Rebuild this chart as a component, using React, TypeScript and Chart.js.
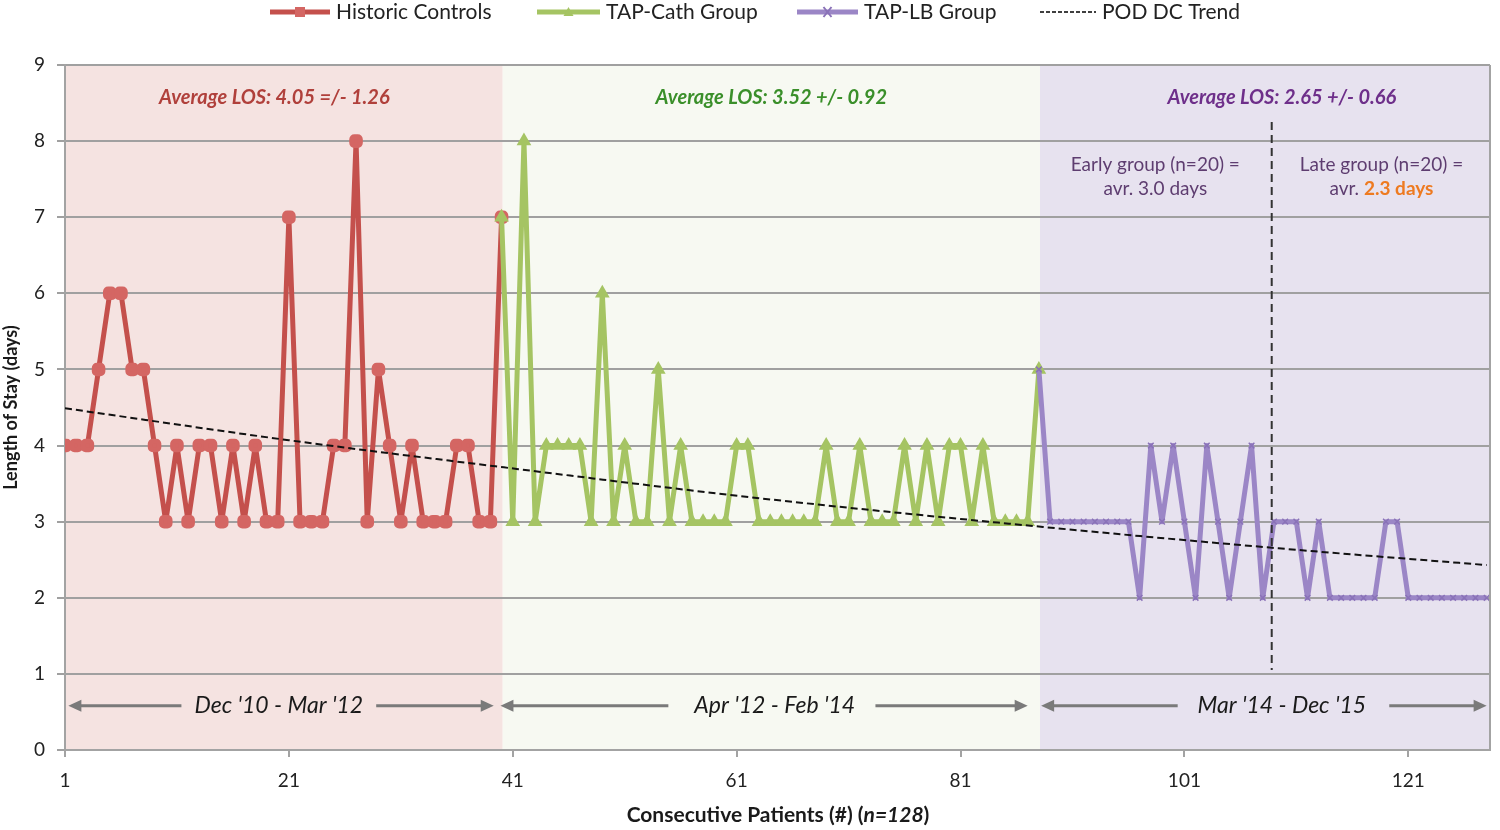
import React, { useEffect, useRef } from "react";
import { Chart, registerables } from "chart.js";

Chart.register(...registerables);

// ---- Data ----
const historicStart = 1;
const historicValues = [
  4, 4, 4, 5, 6, 6, 5, 5, 4, 3,
  4, 3, 4, 4, 3, 4, 3, 4, 3, 3,
  7, 3, 3, 3, 4, 4, 8, 3, 5, 4,
  3, 4, 3, 3, 3, 4, 4, 3, 3, 7,
];
const tapCathStart = 40;
const tapCathValues = [
  7,
  3, 8, 3, 4, 4, 4, 4, 3, 6, 3,
  4, 3, 3, 5, 3, 4, 3, 3, 3, 3,
  4, 4, 3, 3, 3, 3, 3, 3, 4, 3,
  3, 4, 3, 3, 3, 4, 3, 4, 3, 4,
  4, 3, 4, 3, 3, 3, 3, 5,
];
const tapLbStart = 88;
const tapLbValues = [
  5,
  3, 3, 3, 3, 3, 3, 3, 3, 2, 4,
  3, 4, 3, 2, 4, 3, 2, 3, 4, 2,
  3, 3, 3, 2, 3, 2, 2, 2, 2, 2,
  3, 3, 2, 2, 2, 2, 2, 2, 2, 2,
];
// trend curve points
const trendX = [1, 21, 41.5, 62.3, 88.4, 109.4, 128];
const trendY = [4.49, 4.07, 3.69, 3.32, 2.93, 2.65, 2.43];

const xTicks = [1, 21, 41, 61, 81, 101, 121];
const yTicks = [0, 1, 2, 3, 4, 5, 6, 7, 8, 9];

const seriesNames = ["Historic Controls", "TAP-Cath Group", "TAP-LB Group", "POD DC Trend"];
const periodLabels = ["Dec '10 - Mar '12", "Apr '12 - Feb '14", "Mar '14 - Dec '15"];
const averageLabels = ["Average LOS: 4.05 =/- 1.26", "Average LOS: 3.52 +/- 0.92", "Average LOS: 2.65 +/- 0.66"];

// ---- Styling / layout config ----
const FONT = "Lato, 'Open Sans', sans-serif";
const X_MIN = 1;
const X_MAX = 128.3;
const regionBounds = [1, 40.1, 88.1, X_MAX];
const regionFills = ["#f5e3e1", "#f7f9f2", "#e7e2ef"];
const averageStyle = [
  { x: 19.7, color: "#b0403b" },
  { x: 64.1, color: "#3a8f2a" },
  { x: 109.7, color: "#6e2f8a" },
];
const periodArrows = [
  { cx: 20.1, a: [1.3, 11.4], b: [28.8, 39.3] },
  { cx: 64.4, a: [39.9, 54.9], b: [73.4, 87.0] },
  { cx: 109.7, a: [88.2, 100.4], b: [119.3, 128.0] },
];
const splitX = 108.8;

const COLORS = {
  red: "#c4504c",
  redMarker: "#d46663",
  green: "#a5c463",
  purple: "#9b86c6",
};

function xy(start: number, values: number[]) {
  return values.map((v, i) => ({ x: start + i, y: v }));
}

function drawArrow(ctx: CanvasRenderingContext2D, x1: number, x2: number, y: number, headAt: "left" | "right") {
  ctx.save();
  ctx.strokeStyle = "#7a7a7a";
  ctx.fillStyle = "#7a7a7a";
  ctx.lineWidth = 3;
  const head = 13;
  ctx.beginPath();
  if (headAt === "left") {
    ctx.moveTo(x1 + head - 2, y);
    ctx.lineTo(x2, y);
  } else {
    ctx.moveTo(x1, y);
    ctx.lineTo(x2 - head + 2, y);
  }
  ctx.stroke();
  ctx.beginPath();
  if (headAt === "left") {
    ctx.moveTo(x1, y);
    ctx.lineTo(x1 + head, y - 6);
    ctx.lineTo(x1 + head, y + 6);
  } else {
    ctx.moveTo(x2, y);
    ctx.lineTo(x2 - head, y - 6);
    ctx.lineTo(x2 - head, y + 6);
  }
  ctx.closePath();
  ctx.fill();
  ctx.restore();
}

const decorPlugin = {
  id: "decor",
  beforeDraw(chart: any) {
    const { ctx, chartArea } = chart;
    const xs = chart.scales.x;
    ctx.save();
    for (let i = 0; i < regionFills.length; i++) {
      const l = xs.getPixelForValue(regionBounds[i]);
      const r = xs.getPixelForValue(regionBounds[i + 1]);
      ctx.fillStyle = regionFills[i];
      ctx.fillRect(l, chartArea.top, r - l, chartArea.bottom - chartArea.top);
    }
    ctx.restore();
  },
  afterDatasetsDraw(chart: any) {
    const { ctx, chartArea } = chart;
    const xs = chart.scales.x;
    const ys = chart.scales.y;
    ctx.save();

    // right border
    ctx.strokeStyle = "#a3a3a3";
    ctx.lineWidth = 2;
    ctx.beginPath();
    ctx.moveTo(chartArea.right, chartArea.top);
    ctx.lineTo(chartArea.right, chartArea.bottom);
    ctx.stroke();

    // split line
    ctx.strokeStyle = "#333";
    ctx.lineWidth = 2;
    ctx.setLineDash([8, 5]);
    ctx.beginPath();
    const sx = xs.getPixelForValue(splitX);
    ctx.moveTo(sx, ys.getPixelForValue(8.25));
    ctx.lineTo(sx, ys.getPixelForValue(1.05));
    ctx.stroke();
    ctx.setLineDash([]);

    // average labels
    ctx.textAlign = "center";
    ctx.textBaseline = "middle";
    ctx.font = `italic bold 20px ${FONT}`;
    averageLabels.forEach((t, i) => {
      ctx.fillStyle = averageStyle[i].color;
      ctx.fillText(t, xs.getPixelForValue(averageStyle[i].x), ys.getPixelForValue(8.57));
    });

    // early / late group
    const gf = 19;
    ctx.font = `${gf}px ${FONT}`;
    ctx.fillStyle = "#5e3d70";
    const ex = xs.getPixelForValue(98.4);
    ctx.fillText("Early group (n=20) =", ex, ys.getPixelForValue(7.69));
    ctx.fillText("avr. 3.0 days", ex, ys.getPixelForValue(7.37));
    const lx = xs.getPixelForValue(118.6);
    ctx.fillText("Late group (n=20) =", lx, ys.getPixelForValue(7.69));
    const p1 = "avr. ";
    const p2 = "2.3 days";
    ctx.font = `${gf}px ${FONT}`;
    const w1 = ctx.measureText(p1).width;
    ctx.font = `bold ${gf}px ${FONT}`;
    const w2 = ctx.measureText(p2).width;
    const startX = lx - (w1 + w2) / 2;
    const ly = ys.getPixelForValue(7.37);
    ctx.textAlign = "left";
    ctx.font = `${gf}px ${FONT}`;
    ctx.fillStyle = "#5e3d70";
    ctx.fillText(p1, startX, ly);
    ctx.font = `bold ${gf}px ${FONT}`;
    ctx.fillStyle = "#ee7a20";
    ctx.fillText(p2, startX + w1, ly);

    // period arrows
    const ay = ys.getPixelForValue(0.58);
    ctx.textAlign = "center";
    ctx.font = `italic 23px ${FONT}`;
    ctx.fillStyle = "#1a1a1a";
    periodArrows.forEach((p, i) => {
      drawArrow(ctx, xs.getPixelForValue(p.a[0]), xs.getPixelForValue(p.a[1]), ay, "left");
      drawArrow(ctx, xs.getPixelForValue(p.b[0]), xs.getPixelForValue(p.b[1]), ay, "right");
      ctx.fillText(periodLabels[i], xs.getPixelForValue(p.cx), ay);
    });

    ctx.restore();
  },
  afterDraw(chart: any) {
    const { ctx } = chart;
    ctx.save();
    // x title with italic part
    const t1 = "Consecutive Patients (#) (";
    const t2 = "n=128";
    const t3 = ")";
    const tf = 21;
    ctx.textBaseline = "middle";
    ctx.fillStyle = "#1a1a1a";
    ctx.font = `bold ${tf}px ${FONT}`;
    const w1 = ctx.measureText(t1).width;
    const w3 = ctx.measureText(t3).width;
    ctx.font = `italic bold ${tf}px ${FONT}`;
    const w2 = ctx.measureText(t2).width;
    const cx = 778;
    let x = cx - (w1 + w2 + w3) / 2;
    const y = 815;
    ctx.textAlign = "left";
    ctx.font = `bold ${tf}px ${FONT}`;
    ctx.fillText(t1, x, y);
    x += w1;
    ctx.font = `italic bold ${tf}px ${FONT}`;
    ctx.fillText(t2, x, y);
    x += w2;
    ctx.font = `bold ${tf}px ${FONT}`;
    ctx.fillText(t3, x, y);

    // legend
    const ly = 12;
    const items = [
      { x0: 270, x1: 330, tx: 336, color: COLORS.red, marker: "rect" },
      { x0: 537, x1: 600, tx: 606, color: COLORS.green, marker: "tri" },
      { x0: 797, x1: 858, tx: 864, color: COLORS.purple, marker: "x" },
      { x0: 1040, x1: 1096, tx: 1102, color: "#000", marker: "dash" },
    ];
    items.forEach((it, i) => {
      ctx.save();
      if (it.marker === "dash") {
        ctx.strokeStyle = "#000";
        ctx.lineWidth = 1.5;
        ctx.setLineDash([4, 2]);
      } else {
        ctx.strokeStyle = it.color;
        ctx.lineWidth = 5;
      }
      ctx.beginPath();
      ctx.moveTo(it.x0, ly);
      ctx.lineTo(it.x1, ly);
      ctx.stroke();
      ctx.setLineDash([]);
      const mx = (it.x0 + it.x1) / 2;
      if (it.marker === "rect") {
        ctx.fillStyle = COLORS.redMarker;
        ctx.fillRect(mx - 5, ly - 5, 10, 10);
      } else if (it.marker === "tri") {
        ctx.fillStyle = it.color;
        ctx.beginPath();
        ctx.moveTo(mx, ly - 5);
        ctx.lineTo(mx + 5, ly + 4);
        ctx.lineTo(mx - 5, ly + 4);
        ctx.closePath();
        ctx.fill();
      } else if (it.marker === "x") {
        ctx.strokeStyle = "#8a72b8";
        ctx.lineWidth = 2;
        ctx.beginPath();
        ctx.moveTo(mx - 4, ly - 5);
        ctx.lineTo(mx + 4, ly + 5);
        ctx.moveTo(mx + 4, ly - 5);
        ctx.lineTo(mx - 4, ly + 5);
        ctx.stroke();
      }
      ctx.fillStyle = "#222";
      ctx.font = `21px ${FONT}`;
      ctx.textAlign = "left";
      ctx.textBaseline = "middle";
      ctx.fillText(seriesNames[i], it.tx, ly);
      ctx.restore();
    });
    ctx.restore();
  },
};

export default function App() {
  const canvasRef = useRef<HTMLCanvasElement | null>(null);

  useEffect(() => {
    if (!canvasRef.current) return;
    const chart = new Chart(canvasRef.current, {
      type: "line",
      data: {
        datasets: [
          {
            label: seriesNames[0],
            data: xy(historicStart, historicValues),
            borderColor: COLORS.red,
            backgroundColor: COLORS.redMarker,
            pointBackgroundColor: COLORS.redMarker,
            pointBorderColor: COLORS.redMarker,
            borderWidth: 5,
            borderJoinStyle: "round",
            pointStyle: "rectRounded",
            pointRadius: 5,
            tension: 0,
            order: 3,
          },
          {
            label: seriesNames[1],
            data: xy(tapCathStart, tapCathValues),
            borderColor: COLORS.green,
            backgroundColor: COLORS.green,
            pointBackgroundColor: COLORS.green,
            pointBorderColor: COLORS.green,
            borderWidth: 5,
            borderJoinStyle: "round",
            pointStyle: "triangle",
            pointRadius: 3.5,
            tension: 0,
            order: 2,
          },
          {
            label: seriesNames[2],
            data: xy(tapLbStart, tapLbValues),
            borderColor: COLORS.purple,
            backgroundColor: COLORS.purple,
            pointBackgroundColor: COLORS.purple,
            pointBorderColor: "#8a72b8",
            pointBorderWidth: 1.5,
            borderWidth: 5,
            borderJoinStyle: "round",
            pointStyle: "crossRot",
            pointRadius: 4,
            tension: 0,
            order: 1,
          },
          {
            label: seriesNames[3],
            data: trendX.map((x, i) => ({ x, y: trendY[i] })),
            borderColor: "#111",
            borderWidth: 2,
            borderDash: [7, 4],
            pointRadius: 0,
            cubicInterpolationMode: "monotone",
            order: 0,
          },
        ],
      },
      options: {
        animation: false,
        responsive: true,
        maintainAspectRatio: false,
        layout: { padding: { top: 65, right: 8, left: 0, bottom: 0 } },
        plugins: {
          legend: { display: false },
          tooltip: { enabled: false },
          title: { display: false },
        },
        scales: {
          x: {
            type: "linear",
            min: X_MIN,
            max: X_MAX,
            afterBuildTicks: (scale: any) => {
              scale.ticks = xTicks.map((v) => ({ value: v }));
            },
            afterFit: (scale: any) => {
              scale.height = 80;
            },
            ticks: {
              font: { family: FONT, size: 19 },
              color: "#222",
              padding: 12,
              maxRotation: 0,
              autoSkip: false,
            },
            grid: {
              drawOnChartArea: false,
              drawTicks: true,
              tickLength: 7,
              color: "#a3a3a3",
              lineWidth: 2,
            },
            border: { display: true, color: "#a3a3a3", width: 2 },
            title: { display: false },
          },
          y: {
            type: "linear",
            min: 0,
            max: 9,
            afterBuildTicks: (scale: any) => {
              scale.ticks = yTicks.map((v) => ({ value: v }));
            },
            afterFit: (scale: any) => {
              scale.width = 65;
            },
            ticks: {
              font: { family: FONT, size: 19 },
              color: "#222",
              padding: 12,
            },
            grid: {
              color: "#a0a0a0",
              lineWidth: 2,
              tickLength: 8,
            },
            border: { display: true, color: "#a3a3a3", width: 2 },
            title: {
              display: true,
              text: "Length of Stay (days)",
              font: { family: FONT, size: 18, weight: "bold" },
              color: "#1a1a1a",
              padding: { top: 0, bottom: 0 },
            },
          },
        },
      },
      plugins: [decorPlugin],
    } as any);
    return () => chart.destroy();
  }, []);

  return (
    <div style={{ position: "fixed", left: 0, top: 0, width: 1500, height: 830, background: "#fff" }}>
      <canvas ref={canvasRef} />
    </div>
  );
}
